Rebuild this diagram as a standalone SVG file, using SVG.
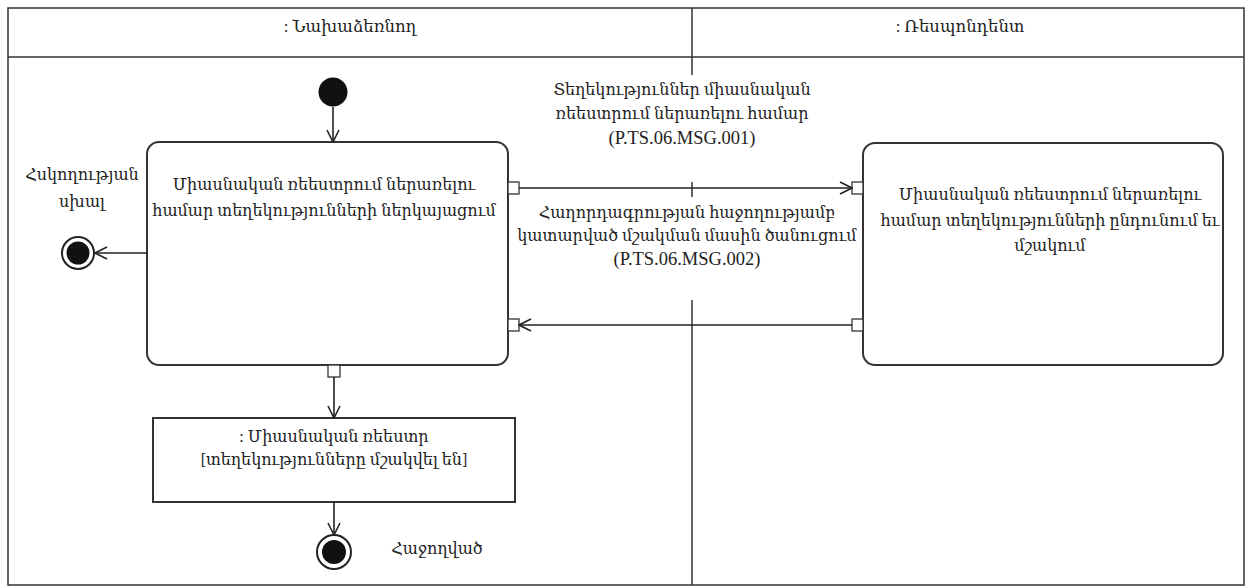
<svg xmlns="http://www.w3.org/2000/svg" width="1251" height="588" viewBox="0 0 1251 588">
<defs>
<marker id="open" viewBox="0 0 14 14" refX="13" refY="7" markerWidth="14" markerHeight="14" markerUnits="userSpaceOnUse" orient="auto">
<path d="M1,1 L13,7 L1,13" fill="none" stroke="#222" stroke-width="1.6"/>
</marker>
<style>
.t{font-family:"Liberation Serif","DejaVu Serif",serif;font-size:16px;fill:#222;text-anchor:middle}
.l{font-family:"Liberation Serif","DejaVu Serif",serif;font-size:18.5px;fill:#222;text-anchor:middle}
.h{font-family:"Liberation Serif","DejaVu Serif",serif;font-size:16.5px;fill:#222;text-anchor:middle}
.frame{fill:none;stroke:#333;stroke-width:1.5}
.node{fill:#fff;stroke:#333;stroke-width:2}
.pin{fill:#fff;stroke:#333;stroke-width:1.3}
.edge{fill:none;stroke:#222;stroke-width:1.6;marker-end:url(#open)}
.bg{fill:#fff}
</style>
</defs>
<rect width="1251" height="588" fill="#fff"/>
<g id="swimlanes">
<rect class="frame" x="8" y="8" width="1236" height="577"/>
<line class="frame" x1="8" y1="57" x2="1244" y2="57"/>
<line class="frame" x1="692" y1="8" x2="692" y2="585"/>
<text class="h" x="350" y="32">: Նախաձեռնող</text>
<text class="h" x="960" y="32">: Ռեսպոնդենտ</text>
</g>
<g id="initial"><circle cx="333" cy="92" r="14.5" fill="#111"/></g>
<g id="act-submit">
<rect class="node" x="147" y="142" width="361" height="223" rx="12"/>
<text class="t" x="324" y="190">Միասնական ռեեստրում ներառելու</text>
<text class="t" x="324" y="216">համար տեղեկությունների ներկայացում</text>
<rect class="pin" x="508" y="182" width="11" height="12"/>
<rect class="pin" x="508" y="319" width="11" height="12"/>
<rect class="pin" x="328" y="365" width="12" height="12"/>
</g>
<g id="act-receive">
<rect class="node" x="863" y="143" width="360" height="222" rx="12"/>
<text class="t" x="1050" y="200">Միասնական ռեեստրում ներառելու</text>
<text class="t" x="1050" y="226">համար տեղեկությունների ընդունում եւ</text>
<text class="t" x="1050" y="251">մշակում</text>
<rect class="pin" x="852" y="182" width="11" height="12"/>
<rect class="pin" x="852" y="319" width="11" height="12"/>
</g>
<g id="error-final">
<circle cx="78" cy="253" r="16" fill="#fff" stroke="#222" stroke-width="2"/>
<circle cx="78" cy="253" r="11.5" fill="#111"/>
<text class="t" x="82" y="180">Հսկողության</text>
<text class="t" x="82" y="207">սխալ</text>
</g>
<g id="object-registry">
<rect x="153" y="418" width="362" height="84" fill="#fff" stroke="#333" stroke-width="2"/>
<text class="t" x="334" y="442">: Միասնական ռեեստր</text>
<text class="t" x="334" y="465">[տեղեկությունները մշակվել են]</text>
</g>
<g id="success-final">
<circle cx="334" cy="552" r="17" fill="#fff" stroke="#222" stroke-width="2"/>
<circle cx="334" cy="552" r="12" fill="#111"/>
<text class="t" x="437" y="554">Հաջողված</text>
</g>
<g id="connectors">
<line class="edge" x1="333" y1="107" x2="333" y2="142"/>
<line class="edge" x1="147" y1="253" x2="95" y2="253"/>
<line class="edge" x1="519" y1="188" x2="852" y2="188"/>
<line class="edge" x1="852" y1="325" x2="519" y2="325"/>
<line class="edge" x1="334" y1="377" x2="334" y2="418"/>
<line class="edge" x1="334" y1="502" x2="334" y2="535"/>
<rect class="bg" x="548" y="75" width="270" height="107"/>
<rect class="bg" x="520" y="197" width="330" height="103"/>
<text class="t" x="682" y="95">Տեղեկություններ միասնական</text>
<text class="t" x="682" y="119">ռեեստրում ներառելու համար</text>
<text class="l" x="682" y="144">(P.TS.06.MSG.001)</text>
<text class="t" x="687" y="218">Հաղորդագրության հաջողությամբ</text>
<text class="t" x="687" y="241">կատարված մշակման մասին ծանուցում</text>
<text class="l" x="687" y="265">(P.TS.06.MSG.002)</text>
</g>
</svg>
